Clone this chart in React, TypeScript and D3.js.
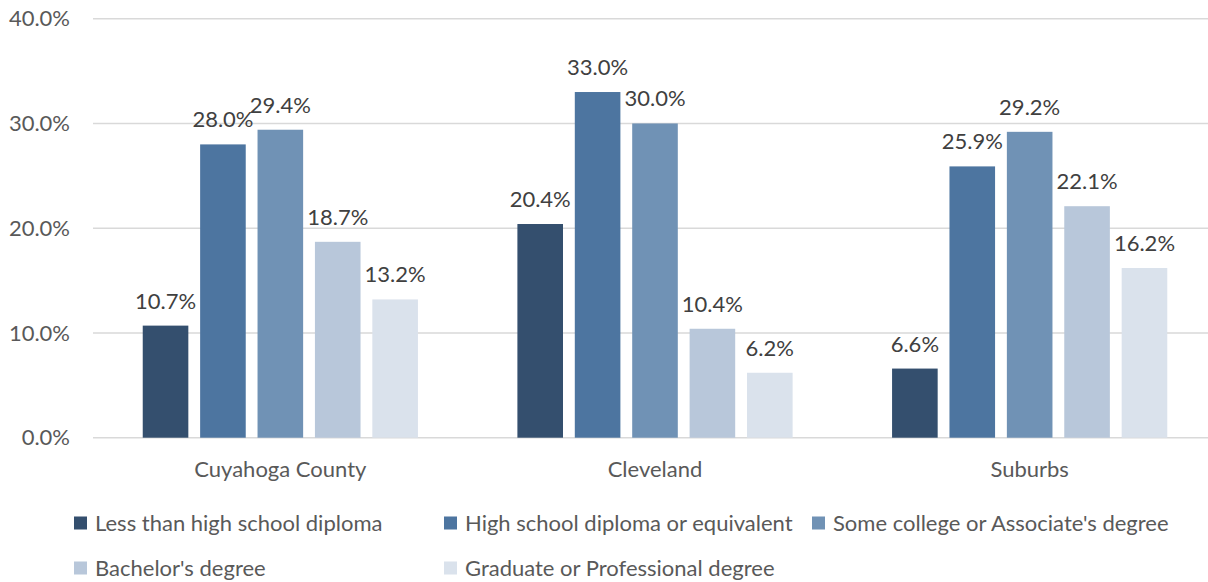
import React from "react";
import * as d3 from "d3";

const categories = ["Cuyahoga County", "Cleveland", "Suburbs"];
const seriesNames = [
  "Less than high school diploma",
  "High school diploma or equivalent",
  "Some college or Associate's degree",
  "Bachelor's degree",
  "Graduate or Professional degree",
];
const lessThanHS = [10.7, 20.4, 6.6];
const highSchool = [28.0, 33.0, 25.9];
const someCollege = [29.4, 30.0, 29.2];
const bachelors = [18.7, 10.4, 22.1];
const graduate = [13.2, 6.2, 16.2];
const seriesValues = [lessThanHS, highSchool, someCollege, bachelors, graduate];
const colors = ["#344F6E", "#4D75A0", "#7092B5", "#B8C7DA", "#DAE2EC"];
const yTicks = [0, 10, 20, 30, 40];

const W = 1208;
const H = 582;
const left = 93;
const right = 1217;
const top = 18.7;
const bottom = 437.7;
const FONT = "Lato, 'Open Sans', sans-serif";
const FS = 22;

export default function App() {
  const x0 = d3.scaleBand<string>().domain(categories).range([left, right]).paddingInner(0).paddingOuter(0);
  const y = d3.scaleLinear().domain([0, 40]).range([bottom, top]);
  const step = 57.4;
  const barW = 45.6;
  const groupW = step * 4 + barW;
  const x1 = (i: number, c: string) => (x0(c) as number) + x0.bandwidth() / 2 - groupW / 2 + i * step;

  const legendItems = [
    { i: 0, x: 74, y: 523 },
    { i: 1, x: 444, y: 523 },
    { i: 2, x: 812, y: 523 },
    { i: 3, x: 74, y: 568 },
    { i: 4, x: 444, y: 568 },
  ];

  return (
    <svg width={W} height={H} style={{ position: "absolute", left: 0, top: 0, background: "#fff" }} fontFamily={FONT}>
      {yTicks.map((t) => (
        <g key={t}>
          <line x1={left} x2={right} y1={y(t)} y2={y(t)} stroke="#D9D9D9" strokeWidth={1.5} />
          <text x={70} y={y(t)} dy="0.35em" textAnchor="end" fontSize={FS} fill="#595959">
            {d3.format(".1f")(t) + "%"}
          </text>
        </g>
      ))}
      {seriesValues.map((vals, i) =>
        categories.map((c, j) => (
          <g key={`${i}-${j}`}>
            <rect x={x1(i, c)} y={y(vals[j])} width={barW} height={y(0) - y(vals[j])} fill={colors[i]} />
            <text x={x1(i, c) + barW / 2} y={y(vals[j]) - 17} textAnchor="middle" fontSize={FS} fill="#404040">
              {d3.format(".1f")(vals[j]) + "%"}
            </text>
          </g>
        ))
      )}
      {categories.map((c) => (
        <text key={c} x={(x0(c) as number) + x0.bandwidth() / 2} y={477} textAnchor="middle" fontSize={FS} fill="#595959">
          {c}
        </text>
      ))}
      {legendItems.map((l) => (
        <g key={l.i}>
          <rect x={l.x} y={l.y - 6.5} width={13} height={13} fill={colors[l.i]} />
          <text x={l.x + 21} y={l.y} dy="0.35em" fontSize={FS} fill="#595959">
            {seriesNames[l.i]}
          </text>
        </g>
      ))}
    </svg>
  );
}
